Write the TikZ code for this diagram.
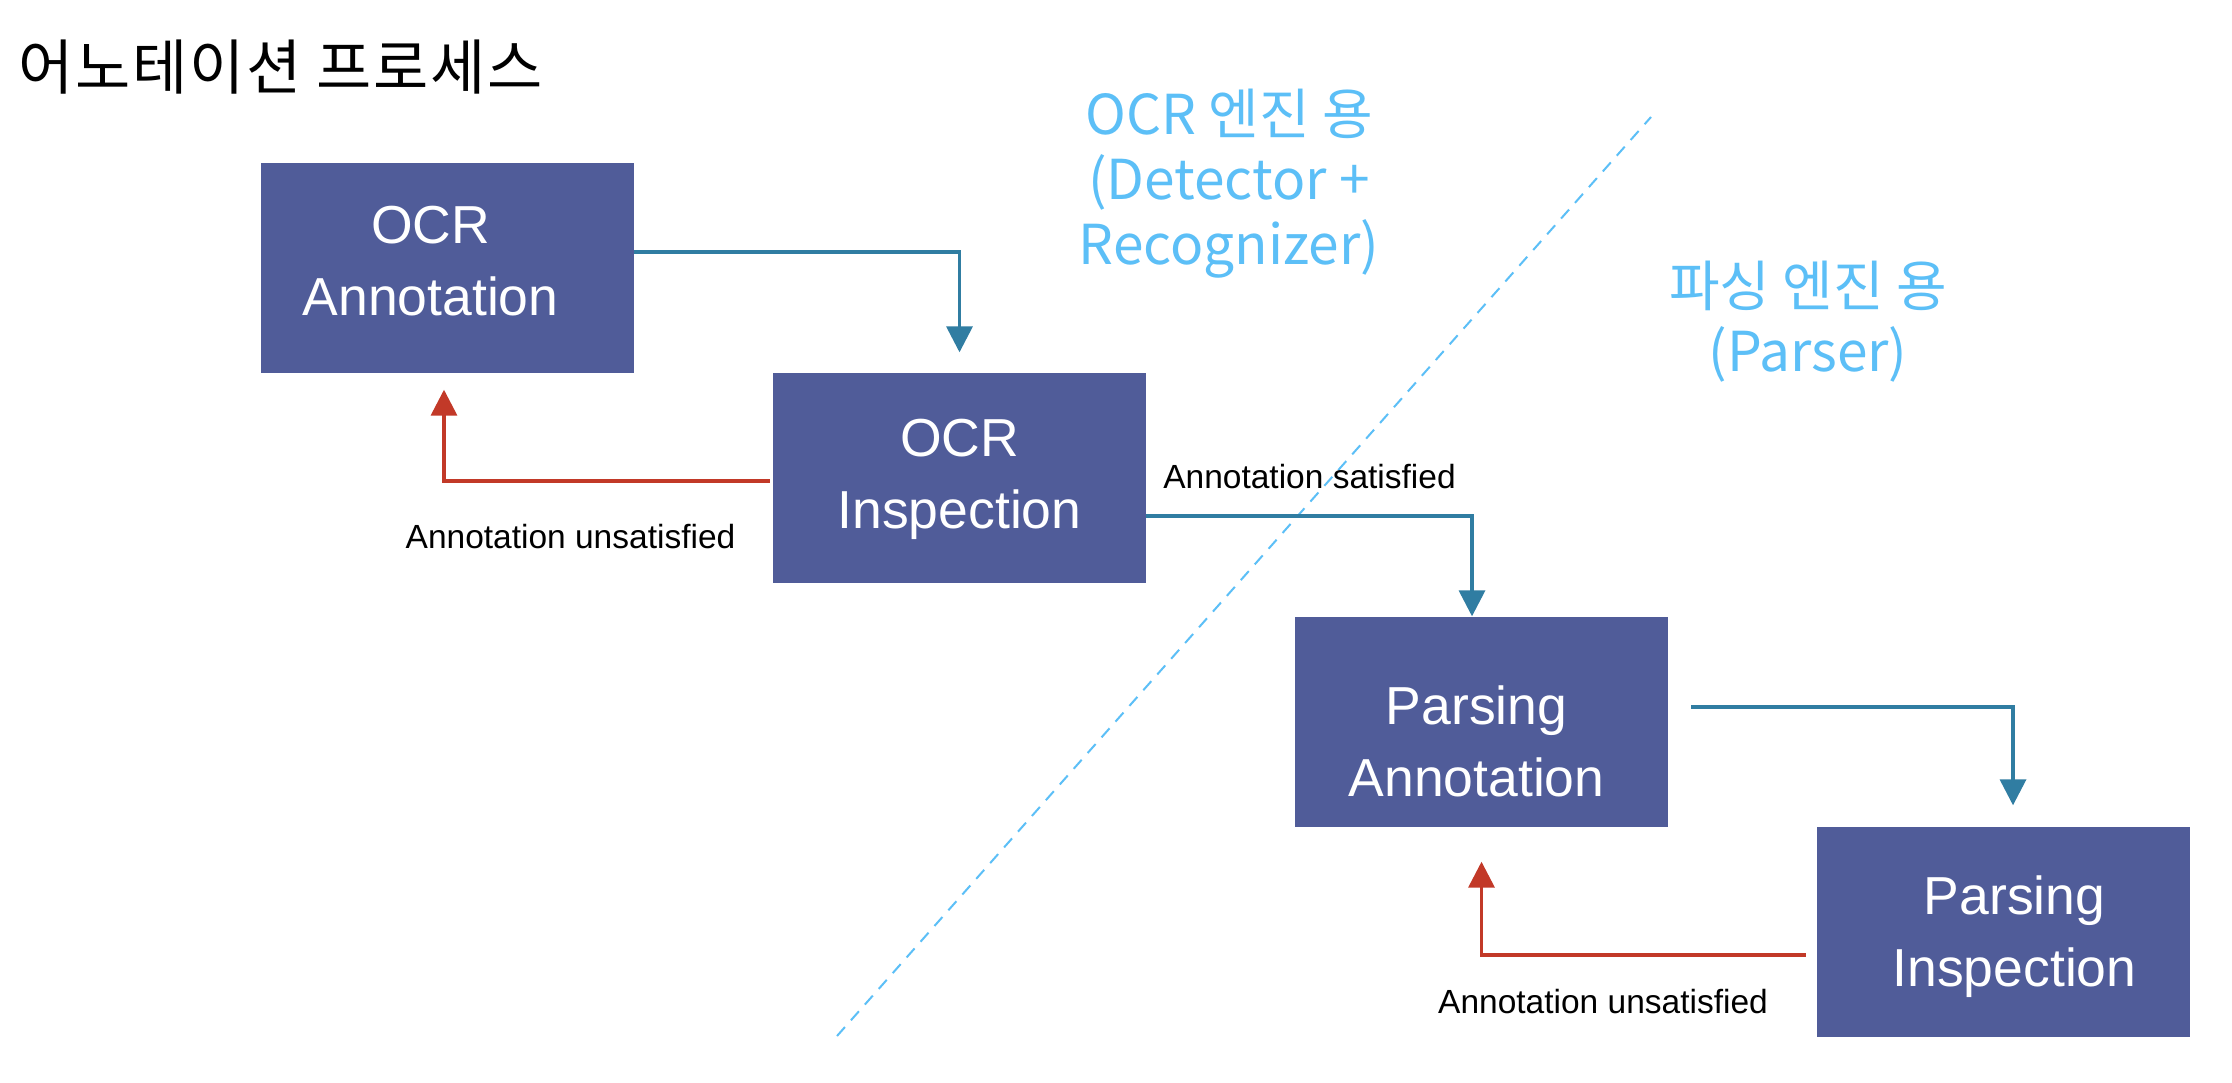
\documentclass[tikz,border=0pt]{standalone}
\usepackage{fontspec}
\setmainfont{Liberation Sans}
\newfontfamily\krfont{Noto Sans CJK KR}
\newfontfamily\krtitle[LetterSpace=3]{Noto Sans CJK KR}
\usetikzlibrary{arrows.meta,calc}
\definecolor{boxblue}{RGB}{80,92,153}
\definecolor{flowblue}{RGB}{48,125,162}
\definecolor{flowred}{RGB}{194,57,40}
\definecolor{skyblue}{RGB}{92,191,247}
\begin{document}
\begin{tikzpicture}[x=1pt,y=-1pt,
  procbox/.style={fill=boxblue, minimum width=373pt, minimum height=210pt, inner sep=0pt},
  boxtext/.style={inner sep=0pt, text=white, align=center, font=\fontsize{53.5}{72}\selectfont},
  okarrow/.style={draw=flowblue, line width=3.5pt, -{Triangle[width=26pt,length=26pt]}},
  backarrow/.style={draw=flowred, line width=3.5pt, -{Triangle[width=26pt,length=26pt]}},
  lbl/.style={inner sep=0pt, text=black, font=\fontsize{33.5}{38}\selectfont},
  engtext/.style={inner sep=0pt, text=skyblue, align=center, font=\krfont\fontsize{55}{65}\selectfont},
  divider/.style={draw=skyblue, line width=2pt, dash pattern=on 12pt off 9pt}
]
\useasboundingbox (0,0) rectangle (2232,1082);
\fill[white] (0,0) rectangle (2232,1082);

% title
\node[anchor=west, inner sep=0pt, font=\krtitle\fontsize{60}{62}\selectfont] (title) at (18,67) {어노테이션 프로세스};

% divider
\coordinate (divTop) at (1651,117);
\coordinate (divBot) at (837,1036);
\draw[divider] (divBot) -- (divTop);

% engine labels
\node[engtext] (ocrEng) at (1229,184) {OCR 엔진 용\\(Detector +\\Recognizer)};
\node[engtext] (parEng) at (1808,322) {파싱 엔진 용\\(Parser)};

% boxes
\node[procbox, label={[boxtext, xshift=-17pt, yshift=6pt]center:OCR\\Annotation}] (ocrA) at (447.5,267.5) {};
\node[procbox, label={[boxtext, yshift=-2pt]center:OCR\\Inspection}] (ocrI) at (959.5,477.5) {};
\node[procbox, label={[boxtext, xshift=-5pt, yshift=-20pt]center:Parsing\\Annotation}] (parA) at (1481.5,721.5) {};
\node[procbox, label={[boxtext, xshift=11pt, yshift=-5pt]center:Parsing\\Inspection}] (parI) at (2003.5,931.5) {};

% forward arrows
\draw[okarrow] ($(ocrA.east)+(0,-15.5)$) -| ($(ocrI.north)+(0,-20)$);
\draw[okarrow] ($(ocrI.east)+(0,38.5)$) -| ($(parA.north)+(-9.5,0)$);
\draw[okarrow] ($(parA.east)+(23,-14.5)$) -| ($(parI.north)+(9.5,-21)$);

% back arrows
\draw[backarrow] ($(ocrI.west)+(-3,3.5)$) -| ($(ocrA.south)+(-3.5,17)$);
\draw[backarrow] ($(parI.west)+(-11,23.5)$) -| ($(parA.south)+(0,35)$);

% labels
\node[lbl] (lblU1) at (570.5,537) {Annotation unsatisfied};
\node[lbl] (lblS) at (1309.5,477) {Annotation satisfied};
\node[lbl] (lblU2) at (1603,1002) {Annotation unsatisfied};
\end{tikzpicture}
\end{document}
